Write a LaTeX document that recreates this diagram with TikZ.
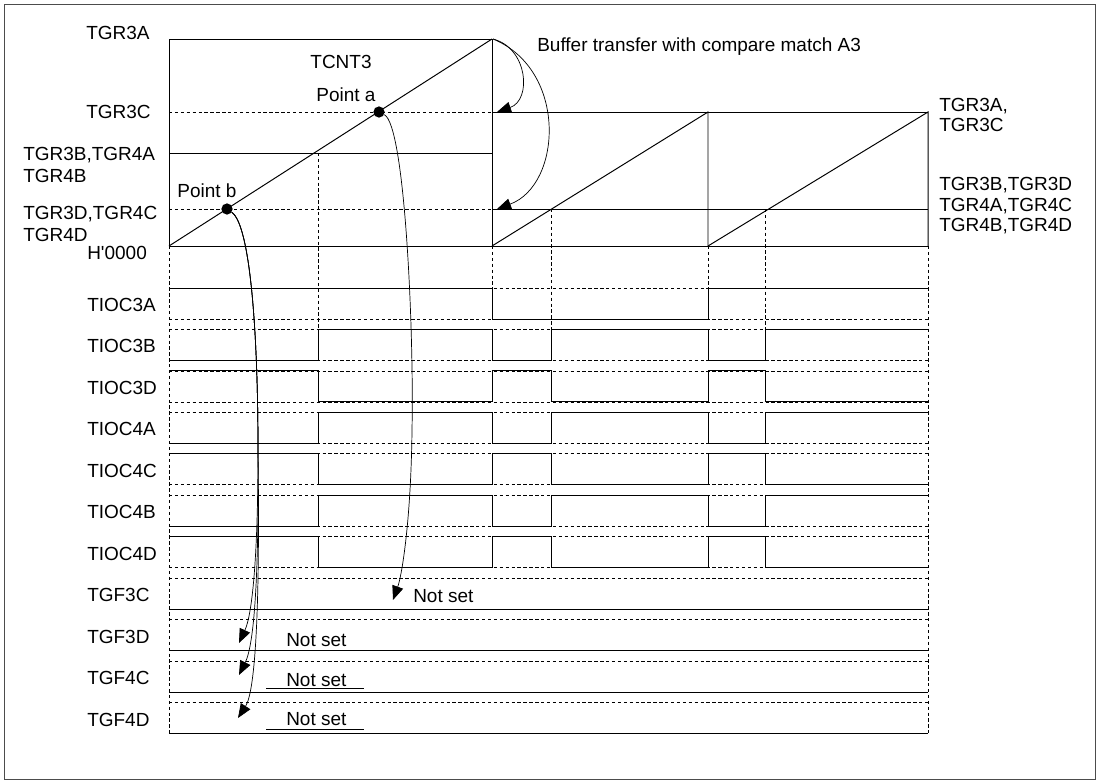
\documentclass[tikz,border=0pt]{standalone}
\usepackage{fontspec}
\setmainfont{Liberation Sans}
\usetikzlibrary{arrows.meta}

\begin{document}
\begin{tikzpicture}[x=0.025cm, y=-0.025cm,
    lbl/.style={font=\fontsize{13.5}{14.6}\selectfont, inner sep=0pt, anchor=west},
    guide/.style={dash pattern=on 2.4pt off 1.8pt, line width=0.5pt},
    wave/.style={line width=0.7pt},
    flow/.style={line width=0.5pt, -{Triangle[length=10pt,width=8pt]}},
    dot/.style={circle, fill, inner sep=0pt, minimum size=8pt}]
  \useasboundingbox (0,0) rectangle (1100,783);
  \draw[black!70, line width=0.6pt] (4,4) rectangle (1095,779);

  % Counter TCNT3
  \draw[wave] (169,39) rectangle (492,246);
  \draw[wave] (169,246) -- (492,39);
  \draw[guide] (169,112) -- (492,112);
  \draw[wave] (169,153) -- (492,153);
  \draw[guide] (169,209) -- (492,209);
  \draw[wave] (492,246) -- (928,246);
  \draw[wave] (492,112) -- (928,112);
  \draw[wave] (492,209) -- (928,209);
  \draw[wave] (492,246) -- (708,112) -- (708,246);
  \draw[wave] (708,246) -- (928,112) -- (928,246);

  % Register labels
  \node[lbl] (tgr3a) at (86,33) {TGR3A};
  \node[lbl] (tgr3c) at (86,112) {TGR3C};
  \node[lbl] (tgr3b) at (23,155) {TGR3B,TGR4A};
  \node[lbl] (tgr4b) at (23,176) {TGR4B};
  \node[lbl] (tgr3d) at (23,214) {TGR3D,TGR4C};
  \node[lbl] (tgr4d) at (23,235) {TGR4D};
  \node[lbl] (zero) at (87,253) {H\textquotesingle 0000};
  \node[lbl, anchor=center] (tcnt) at (341,62) {TCNT3};
  \node[lbl, anchor=center] (pta) at (346,95) {Point a};
  \node[lbl, anchor=center] (ptb) at (207,191) {Point b};
  \node[lbl, align=left] (newac) at (939,115) {TGR3A,\\TGR3C};
  \node[lbl, align=left] (newbd) at (939,206) {TGR3B,TGR3D\\TGR4A,TGR4C\\TGR4B,TGR4D};
  \node[lbl] (buf) at (537,47) {Buffer transfer with compare match A3};

  % Compare match points
  \node[dot] (a) at (379,112) {};
  \node[dot] (b) at (227,209) {};

  % Time guides
  \draw[guide] (169,246) -- (169,733);
  \draw[guide] (928,246) -- (928,733);
  \draw[guide] (318,153) -- (318,329);
  \draw[guide] (492,246) -- (492,288);
  \draw[guide] (551,209) -- (551,329);
  \draw[guide] (708,246) -- (708,288);
  \draw[guide] (765,209) -- (765,329);

  % Output and flag rows
  \foreach \k/\name in {0/TIOC3A,1/TIOC3B,2/TIOC3D,3/TIOC4A,4/TIOC4C,5/TIOC4B,6/TIOC4D,
                        7/TGF3C,8/TGF3D,9/TGF4C,10/TGF4D} {
    \draw[guide, shift={(0,{288+41.45*\k})}] (169,0) -- (928,0) (169,31) -- (928,31);
    \node[lbl] (\name) at (87,{288+41.45*\k+17}) {\name};
  }
  \draw[wave, shift={(0,288)}] (169,0) -- (492,0) -- (492,31) -- (708,31) -- (708,0) -- (928,0);
  \foreach \k in {1,3,5}
    \draw[wave, shift={(0,{288+41.45*\k})}] (169,31) -- (318,31) -- (318,0) -- (492,0) -- (492,31)
      -- (551,31) -- (551,0) -- (708,0) -- (708,31) -- (765,31) -- (765,0) -- (928,0);
  \foreach \k in {2,4,6}
    \draw[wave, shift={(0,{288+41.45*\k})}] (169,0) -- (318,0) -- (318,31) -- (492,31) -- (492,0)
      -- (551,0) -- (551,31) -- (708,31) -- (708,0) -- (765,0) -- (765,31) -- (928,31);
  \foreach \k in {7,...,10}
    \draw[wave, shift={(0,{288+41.45*\k})}] (169,31) -- (928,31);

  % Not set
  \node[lbl] (ns3c) at (413,596) {Not set};
  \node[lbl] (ns3d) at (286,640) {Not set};
  \node[lbl] (ns4c) at (286,680) {Not set};
  \node[lbl] (ns4d) at (286,719) {Not set};
  \draw[wave] (266,688) -- (364,688);
  \draw[wave] (266,729) -- (364,729);

  % Buffer transfer
  \coordinate (top) at (493,39);
  \coordinate (c3c) at (497,112);
  \coordinate (c3d) at (497,209);
  \draw[flow] (top) .. controls (528,48) and (532,100) .. (c3c);
  \draw[flow] (top) .. controls (568,70) and (562,185) .. (c3d);

  % Flag arrows
  \coordinate (f3c) at (393,600);
  \coordinate (f3d) at (239,643);
  \coordinate (f4c) at (239,675);
  \coordinate (f4d) at (238,718);
  \draw[flow] (a) .. controls (405,125) and (414,330) .. (412,430) .. controls (411,520) and (402,575) .. (f3c);
  \draw[flow] (b) .. controls (250,225) and (258,330) .. (258,450) .. controls (258,560) and (252,615) .. (f3d);
  \draw[flow] (b) .. controls (250,225) and (258,330) .. (258,450) .. controls (259,580) and (254,645) .. (f4c);
  \draw[flow] (b) .. controls (250,225) and (258,330) .. (258,450) .. controls (260,600) and (256,690) .. (f4d);
\end{tikzpicture}
\end{document}
